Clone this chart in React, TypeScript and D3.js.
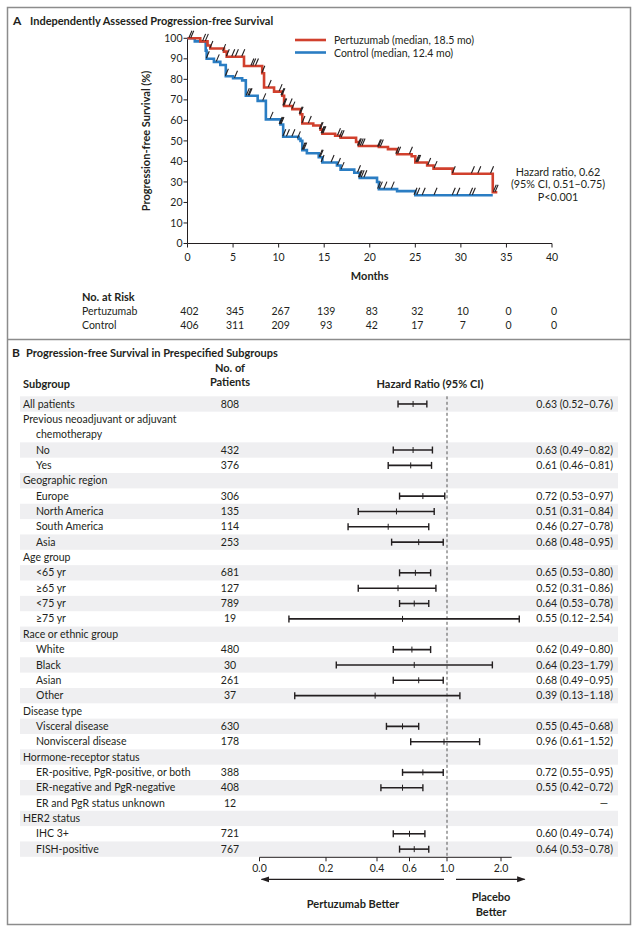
import React from "react";
import * as d3 from "d3";

const FONT = "'Liberation Sans Narrow', 'Arial Narrow', Lato, sans-serif";

// ---------- Panel A data ----------
const monthTicks = [0, 5, 10, 15, 20, 25, 30, 35, 40];
const survTicks = [0, 10, 20, 30, 40, 50, 60, 70, 80, 90, 100];

const pertSteps: [number, number][] = [
  [0, 100], [1.4, 98.5], [2.2, 96.5], [2.5, 95], [4.0, 93.5], [4.3, 91], [6.2, 86.5],
  [8.2, 83], [8.4, 76], [9.5, 74], [10.4, 72], [10.6, 67], [11.5, 65.5], [12.4, 63],
  [12.6, 58.5], [13.8, 57.5], [14.6, 55.5], [14.8, 53.5], [16.2, 52.5], [16.8, 51.5],
  [18.5, 49.5], [18.8, 47.5], [21.0, 47], [22.0, 46], [23.0, 43.5], [24.6, 42.5],
  [25.0, 39.5], [26.3, 38], [27.0, 36.5], [29.1, 34], [33.5, 25],
];
const pertEnd = 34.0;
const ctrlSteps: [number, number][] = [
  [0, 100], [0.8, 98.5], [2.0, 94], [2.1, 90], [2.9, 88.5], [3.6, 87], [4.2, 81.5],
  [5.0, 80.5], [6.0, 79.5], [6.4, 72], [7.7, 69.5], [8.6, 60.5], [10.2, 58], [10.5, 52],
  [12.2, 51], [12.4, 50], [12.6, 45.5], [13.1, 44], [14.4, 42], [14.8, 39.5], [16.4, 38],
  [16.8, 36], [18.3, 34.5], [18.9, 32], [20.8, 30], [21.0, 26.5], [23.0, 25.5], [25.0, 23.5],
];
const ctrlEnd = 33.5;

const pertCensor = [0.3, 1.8, 2.1, 2.6, 4.0, 4.4, 5.0, 5.4, 6.1, 7.1, 7.3, 7.6, 8.3, 9.0, 10.2, 10.4,
  10.5, 10.6, 10.7, 11.3, 11.6, 12.4, 12.5, 12.7, 13.4, 14.6, 14.7, 14.8, 14.9, 15.0, 16.6, 16.8,
  17.0, 18.8, 18.9, 19.1, 19.3, 21.0, 21.1, 21.3, 23.0, 23.2, 24.5, 25.2, 25.3, 25.4, 26.5, 27.2,
  29.2, 31.3, 32.0, 33.4, 33.7, 33.9];
const ctrlCensor = [0.5, 2.2, 3.3, 4.3, 5.3, 6.6, 6.8, 6.9, 8.4, 9.2, 10.2, 10.3, 10.4, 10.6, 11.0,
  11.6, 12.2, 12.7, 12.8, 12.9, 14.6, 14.7, 14.8, 15.9, 16.6, 17.0, 18.8, 18.9, 19.0, 19.2, 19.5,
  21.0, 21.2, 21.7, 22.5, 25.0, 25.3, 25.9, 27.2, 29.2, 29.7, 31.1, 31.4];

const riskTimes = [0, 5, 10, 15, 20, 25, 30, 35, 40];
const riskPert = [402, 345, 267, 139, 83, 32, 10, 0, 0];
const riskCtrl = [406, 311, 209, 93, 42, 17, 7, 0, 0];

// ---------- Panel B data ----------
const subgroupLabels = [
  "All patients", "Previous neoadjuvant or adjuvant\nchemotherapy", "No", "Yes",
  "Geographic region", "Europe", "North America", "South America", "Asia",
  "Age group", "<65 yr", "≥65 yr", "<75 yr", "≥75 yr",
  "Race or ethnic group", "White", "Black", "Asian", "Other",
  "Disease type", "Visceral disease", "Nonvisceral disease",
  "Hormone-receptor status", "ER-positive, PgR-positive, or both", "ER-negative and PgR-negative",
  "ER and PgR status unknown", "HER2 status", "IHC 3+", "FISH-positive",
];
const subgroupIndent = [0, 0, 1, 1, 0, 1, 1, 1, 1, 0, 1, 1, 1, 1, 0, 1, 1, 1, 1, 0, 1, 1, 0, 1, 1, 1, 0, 1, 1];
const patientCounts = ["808", "", "432", "376", "", "306", "135", "114", "253", "", "681", "127", "789", "19",
  "", "480", "30", "261", "37", "", "630", "178", "", "388", "408", "12", "", "721", "767"];
const hazardRatios = [0.63, null, 0.63, 0.61, null, 0.72, 0.51, 0.46, 0.68, null, 0.65, 0.52, 0.64, 0.55,
  null, 0.62, 0.64, 0.68, 0.39, null, 0.55, 0.96, null, 0.72, 0.55, null, null, 0.60, 0.64];
const ciLower = [0.52, null, 0.49, 0.46, null, 0.53, 0.31, 0.27, 0.48, null, 0.53, 0.31, 0.53, 0.12,
  null, 0.49, 0.23, 0.49, 0.13, null, 0.45, 0.61, null, 0.55, 0.42, null, null, 0.49, 0.53];
const ciUpper = [0.76, null, 0.82, 0.81, null, 0.97, 0.84, 0.78, 0.95, null, 0.80, 0.86, 0.78, 2.54,
  null, 0.80, 1.79, 0.95, 1.18, null, 0.68, 1.52, null, 0.95, 0.72, null, null, 0.74, 0.78];
const noEstimateRows = [25];
const forestTickValues = [0.08, 0.2, 0.4, 0.6, 1.0, 2.0];
const forestTickLabels = ["0.0", "0.2", "0.4", "0.6", "1.0", "2.0"];

const RED = "#d1402d";
const BLUE = "#2a7dc3";
const INK = "#231f20";

function survAt(steps: [number, number][], t: number) {
  let s = 100;
  for (const [tt, v] of steps) if (tt <= t) s = v;
  return s;
}

export default function App() {
  const x = d3.scaleLinear().domain([0, 40]).range([187.5, 552]);
  const y = d3.scaleLinear().domain([0, 100]).range([243.5, 38.3]);
  const line = d3
    .line<[number, number]>()
    .x((d) => x(d[0]))
    .y((d) => y(d[1]))
    .curve(d3.curveStepAfter);
  const pertPath = line([...pertSteps, [pertEnd, pertSteps[pertSteps.length - 1][1]]]) || "";
  const ctrlPath = line([...ctrlSteps, [ctrlEnd, ctrlSteps[ctrlSteps.length - 1][1]]]) || "";

  const fx = d3
    .scaleLog()
    .domain([0.08, 0.2, 0.4, 0.6, 1, 2, 4])
    .range([259.5, 326, 377, 409.5, 447, 501, 554]);
  const axisMax = 2.3;

  const rowH = 15.35;
  const firstTop = 396.3;
  let lineIdx = 0;
  const rows = subgroupLabels.map((lab, i) => {
    const lines = lab.split("\n");
    const top = firstTop + lineIdx * rowH;
    lineIdx += lines.length;
    return { lab, lines, top, h: lines.length * rowH, i };
  });
  const forestBottom = firstTop + lineIdx * rowH;
  const axisY = forestBottom + 0.5;

  const censorMark = (t: number, steps: [number, number][], key: string) => {
    const cx = x(t);
    const cy = y(survAt(steps, t));
    return <line key={key} x1={cx - 1.3} y1={cy - 0.5} x2={cx + 1.7} y2={cy - 7.5} stroke={INK} strokeWidth={1.1} />;
  };

  return (
    <svg
      width={639}
      height={931}
      style={{ position: "absolute", left: 0, top: 0, background: "#fff" }}
      fontFamily={FONT}
      fill={INK}
    >
      {/* frame */}
      <rect x={7.5} y={7.5} width={623} height={917} fill="none" stroke="#8c8c8c" strokeWidth={1.5} />
      <line x1={7.5} x2={630.5} y1={339.5} y2={339.5} stroke="#8c8c8c" strokeWidth={1.5} />

      {/* Panel A */}
      <text x={13} y={25} fontSize={12} fontWeight="bold">A</text>
      <text x={30} y={25} fontSize={11} fontWeight="bold">Independently Assessed Progression-free Survival</text>

      {/* y axis */}
      <line x1={x(0)} x2={x(0)} y1={y(0)} y2={y(100)} stroke={INK} strokeWidth={1} />
      {survTicks.map((t) => (
        <g key={"yt" + t}>
          <line x1={x(0) - 4} x2={x(0)} y1={y(t)} y2={y(t)} stroke={INK} strokeWidth={1} />
          <text x={x(0) - 5} y={y(t) + 3.6} fontSize={10.5} textAnchor="end">{t}</text>
        </g>
      ))}
      <text
        transform={`translate(150,${y(50)}) rotate(-90)`}
        fontSize={11}
        fontWeight="bold"
        textAnchor="middle"
      >
        Progression-free Survival (%)
      </text>

      {/* x axis */}
      <line x1={x(0)} x2={x(40)} y1={y(0)} y2={y(0)} stroke={INK} strokeWidth={1} />
      {monthTicks.map((t) => (
        <g key={"xt" + t}>
          <line x1={x(t)} x2={x(t)} y1={y(0)} y2={y(0) + 4} stroke={INK} strokeWidth={1} />
          <text x={x(t)} y={y(0) + 17} fontSize={10.5} textAnchor="middle">{t}</text>
        </g>
      ))}
      <text x={x(20)} y={280} fontSize={11} fontWeight="bold" textAnchor="middle">Months</text>

      {/* curves */}
      <path d={ctrlPath} fill="none" stroke={BLUE} strokeWidth={2.6} />
      <path d={pertPath} fill="none" stroke={RED} strokeWidth={2.6} />
      {ctrlCensor.map((t, i) => censorMark(t, ctrlSteps, "cc" + i))}
      {pertCensor.map((t, i) => censorMark(t, pertSteps, "pc" + i))}

      {/* legend */}
      <line x1={295} x2={326} y1={40} y2={40} stroke={RED} strokeWidth={2.6} />
      <text x={334} y={44} fontSize={10.5}>Pertuzumab (median, 18.5 mo)</text>
      <line x1={295} x2={326} y1={52.5} y2={52.5} stroke={BLUE} strokeWidth={2.6} />
      <text x={334} y={56.5} fontSize={10.5}>Control (median, 12.4 mo)</text>

      {/* hazard ratio */}
      <text x={558} y={175.5} fontSize={10.8} textAnchor="middle">Hazard ratio, 0.62</text>
      <text x={558} y={188} fontSize={10.8} textAnchor="middle">(95% CI, 0.51–0.75)</text>
      <text x={558} y={200.5} fontSize={10.8} textAnchor="middle">P&lt;0.001</text>

      {/* number at risk */}
      <text x={82} y={301} fontSize={11} fontWeight="bold">No. at Risk</text>
      <text x={82} y={315} fontSize={10.5}>Pertuzumab</text>
      <text x={82} y={329} fontSize={10.5}>Control</text>
      {riskTimes.map((t, i) => (
        <g key={"r" + t}>
          <text x={x(t) + 2} y={315} fontSize={10.5} textAnchor="middle">{riskPert[i]}</text>
          <text x={x(t) + 2} y={329} fontSize={10.5} textAnchor="middle">{riskCtrl[i]}</text>
        </g>
      ))}

      {/* Panel B */}
      <text x={12} y={357} fontSize={12} fontWeight="bold">B</text>
      <text x={26} y={357} fontSize={11} fontWeight="bold">Progression-free Survival in Prespecified Subgroups</text>
      <text x={23} y={388} fontSize={11} fontWeight="bold">Subgroup</text>
      <text x={230} y={372} fontSize={11} fontWeight="bold" textAnchor="middle">No. of</text>
      <text x={230} y={386} fontSize={11} fontWeight="bold" textAnchor="middle">Patients</text>
      <text x={430} y={388} fontSize={11} fontWeight="bold" textAnchor="middle">Hazard Ratio (95% CI)</text>

      {rows.map((r) =>
        r.i % 2 === 0 ? (
          <rect key={"bg" + r.i} x={20} y={r.top} width={598} height={r.h} fill="#efeff1" />
        ) : null
      )}

      <line x1={fx(1)} x2={fx(1)} y1={firstTop} y2={axisY} stroke="#555" strokeWidth={1} strokeDasharray="3,2.5" />

      {rows.map((r) => {
        const i = r.i;
        const base = r.top + rowH / 2 + 3.6;
        const hr = hazardRatios[i];
        const lo = ciLower[i];
        const hi = ciUpper[i];
        const cy = r.top + rowH / 2;
        return (
          <g key={"row" + i}>
            {r.lines.map((l, k) => (
              <text
                key={k}
                x={subgroupIndent[i] || k > 0 ? 36 : 23}
                y={base + k * rowH}
                fontSize={10.5}
              >
                {l}
              </text>
            ))}
            {patientCounts[i] && (
              <text x={230} y={base} fontSize={10.5} textAnchor="middle">{patientCounts[i]}</text>
            )}
            {hr != null && lo != null && hi != null && (
              <g stroke={INK}>
                <line x1={fx(lo)} x2={fx(hi)} y1={cy} y2={cy} strokeWidth={1.6} />
                <line x1={fx(lo)} x2={fx(lo)} y1={cy - 3.5} y2={cy + 3.5} strokeWidth={1.4} />
                <line x1={fx(hi)} x2={fx(hi)} y1={cy - 3.5} y2={cy + 3.5} strokeWidth={1.4} />
                <line x1={fx(hr)} x2={fx(hr)} y1={cy - 3} y2={cy + 3} strokeWidth={1} />
              </g>
            )}
            {hr != null && lo != null && hi != null && (
              <text x={613} y={base} fontSize={10.5} textAnchor="end">
                {`${hr.toFixed(2)} (${lo.toFixed(2)}–${hi.toFixed(2)})`}
              </text>
            )}
            {noEstimateRows.includes(i) && (
              <text x={608} y={base} fontSize={10.5} textAnchor="end">—</text>
            )}
          </g>
        );
      })}

      {/* forest axis */}
      <line x1={fx(0.08)} x2={fx(axisMax)} y1={axisY} y2={axisY} stroke={INK} strokeWidth={1} />
      {forestTickValues.map((v, i) => (
        <g key={"ft" + i}>
          <line x1={fx(v)} x2={fx(v)} y1={axisY} y2={axisY + 4} stroke={INK} strokeWidth={1} />
          <text x={fx(v)} y={axisY + 15} fontSize={10.5} textAnchor="middle">{forestTickLabels[i]}</text>
        </g>
      ))}
      <defs>
        <marker id="ah" viewBox="0 0 10 10" refX={9} refY={5} markerWidth={7} markerHeight={7} orient="auto-start-reverse">
          <path d="M0,1.5 L10,5 L0,8.5 z" fill={INK} />
        </marker>
      </defs>
      <line x1={fx(0.08) + 2} x2={fx(1) - 3} y1={axisY + 22} y2={axisY + 22} stroke={INK} strokeWidth={1.2} markerStart="url(#ah)" />
      <line x1={fx(1) + 9} x2={fx(axisMax) + 13} y1={axisY + 22} y2={axisY + 22} stroke={INK} strokeWidth={1.2} markerEnd="url(#ah)" />
      <text x={353} y={axisY + 51} fontSize={11} fontWeight="bold" textAnchor="middle">Pertuzumab Better</text>
      <text x={491} y={axisY + 44} fontSize={11} fontWeight="bold" textAnchor="middle">Placebo</text>
      <text x={491} y={axisY + 59} fontSize={11} fontWeight="bold" textAnchor="middle">Better</text>
    </svg>
  );
}
